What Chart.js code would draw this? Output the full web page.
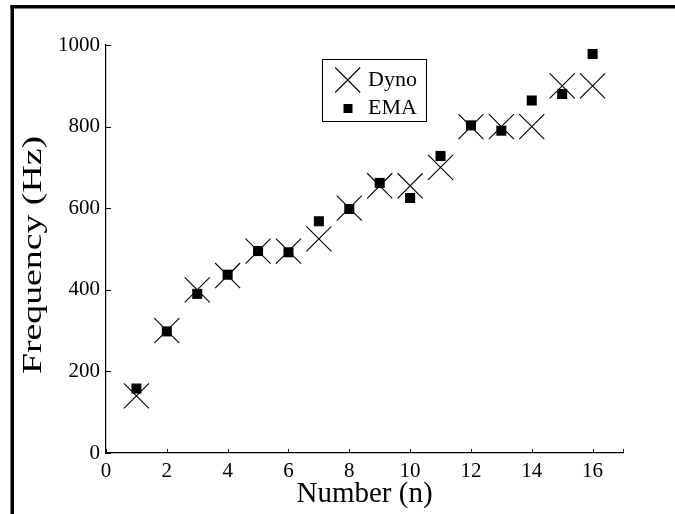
<!DOCTYPE html>
<html><head><meta charset="utf-8">
<script src="https://cdn.jsdelivr.net/npm/chart.js@4"></script>
<style>html,body{margin:0;padding:0;background:#fff}canvas{display:block}</style>
</head><body>
<canvas id="c" width="675" height="514"></canvas>
<script>
const numbers = [1,2,3,4,5,6,7,8,9,10,11,12,13,14,15,16];
const dyno = [140,300,400,435,495,495,525,600,655,655,700,800,800,800,900,900];
const ema  = [158,298,390,437,495,492,568,598,662,625,728,803,790,864,880,978];
const xTicks = [0,2,4,6,8,10,12,14,16];
const yTicks = [0,200,400,600,800,1000];
const seriesNames = ['Dyno','EMA'];
const xTitle = 'Number (n)';
const yTitle = 'Frequency (Hz)';
const FONT = '"Liberation Serif", "Times New Roman", serif';

const toPoints = (xs, ys) => xs.map((x, i) => ({x: x, y: ys[i]}));

const decorPlugin = {
  id: 'decor',
  beforeDraw(chart) {
    const ctx = chart.ctx;
    ctx.save();
    ctx.fillStyle = '#fff';
    ctx.fillRect(0, 0, chart.width, chart.height);
    ctx.restore();
  },
  afterDraw(chart) {
    const ctx = chart.ctx;
    const xs = chart.scales.x, ys = chart.scales.y;
    const area = chart.chartArea;
    ctx.save();
    // outer frame (top and left only)
    ctx.fillStyle = '#000';
    ctx.fillRect(10.5, 5, chart.width, 3.5);
    ctx.fillRect(10.5, 5, 3.5, chart.height);
    // inward tick marks
    ctx.strokeStyle = '#000';
    ctx.lineWidth = 1;
    ctx.beginPath();
    yTicks.forEach(v => {
      const y = Math.round(ys.getPixelForValue(v)) + 0.5;
      ctx.moveTo(area.left, y); ctx.lineTo(area.left + 5, y);
    });
    xTicks.concat([xs.max]).forEach(v => {
      const x = Math.round(xs.getPixelForValue(v)) + 0.5;
      ctx.moveTo(x, area.bottom); ctx.lineTo(x, area.bottom - 4);
    });
    ctx.stroke();
    // y title (stretched along its length as in the reference)
    ctx.font = '28px ' + FONT;
    ctx.fillStyle = '#000';
    ctx.textAlign = 'center';
    ctx.textBaseline = 'middle';
    const w = ctx.measureText(yTitle).width;
    ctx.translate(34, 255);
    ctx.rotate(-Math.PI / 2);
    ctx.scale(238 / w, 1);
    ctx.fillText(yTitle, 0, 0);
    ctx.restore();
    // legend
    ctx.save();
    ctx.strokeStyle = '#000';
    ctx.lineWidth = 1;
    ctx.strokeRect(322.5, 59.5, 104, 62);
    const ds = chart.data.datasets;
    const cx = 347.7, cy = 80, a = 12.5;
    ctx.lineWidth = ds[0].borderWidth;
    ctx.beginPath();
    ctx.moveTo(cx - a, cy - a); ctx.lineTo(cx + a, cy + a);
    ctx.moveTo(cx + a, cy - a); ctx.lineTo(cx - a, cy + a);
    ctx.stroke();
    ctx.fillStyle = ds[1].backgroundColor;
    ctx.fillRect(348 - 4.5, 108.5 - 4.5, 9, 9);
    ctx.fillStyle = '#000';
    ctx.font = '22px ' + FONT;
    ctx.textAlign = 'left';
    ctx.textBaseline = 'middle';
    ctx.fillText(ds[0].label, 368, 80);
    ctx.fillText(ds[1].label, 368, 108.5);
    ctx.restore();
  }
};

new Chart(document.getElementById('c'), {
  type: 'scatter',
  data: {
    datasets: [
      {
        label: seriesNames[0],
        data: toPoints(numbers, dyno),
        pointStyle: 'crossRot',
        pointRadius: 17.7,
        borderColor: '#000',
        backgroundColor: '#000',
        borderWidth: 1.1,
        showLine: false,
        order: 2
      },
      {
        label: seriesNames[1],
        data: toPoints(numbers, ema),
        pointStyle: 'rect',
        pointRadius: 7.1,
        borderColor: '#000',
        backgroundColor: '#000',
        borderWidth: 0,
        showLine: false,
        order: 1
      }
    ]
  },
  options: {
    responsive: false,
    animation: false,
    events: [],
    layout: {padding: {left: 0, right: 52, top: 45, bottom: 0}},
    plugins: {legend: {display: false}, tooltip: {enabled: false}},
    scales: {
      x: {
        type: 'linear',
        min: 0, max: 17,
        afterBuildTicks(scale) { scale.ticks = xTicks.map(v => ({value: v})); },
        afterFit(scale) { scale.height = 61; },
        grid: {display: false, drawTicks: false},
        border: {display: true, color: '#000', width: 1.2},
        ticks: {color: '#000', font: {family: FONT, size: 21}, padding: 6, maxRotation: 0, autoSkip: false,
                callback: v => String(v)},
        title: {display: true, text: xTitle, color: '#000', font: {family: FONT, size: 29}, padding: {top: 0, bottom: 2}}
      },
      y: {
        type: 'linear',
        min: 0, max: 1000,
        afterBuildTicks(scale) { scale.ticks = yTicks.map(v => ({value: v})); },
        afterFit(scale) { scale.width = 106; },
        grid: {display: false, drawTicks: false},
        border: {display: true, color: '#000', width: 1.2},
        ticks: {color: '#000', font: {family: FONT, size: 21}, padding: 6, autoSkip: false,
                callback: v => String(v)},
        title: {display: false}
      }
    }
  },
  plugins: [decorPlugin]
});
</script>
</body></html>
